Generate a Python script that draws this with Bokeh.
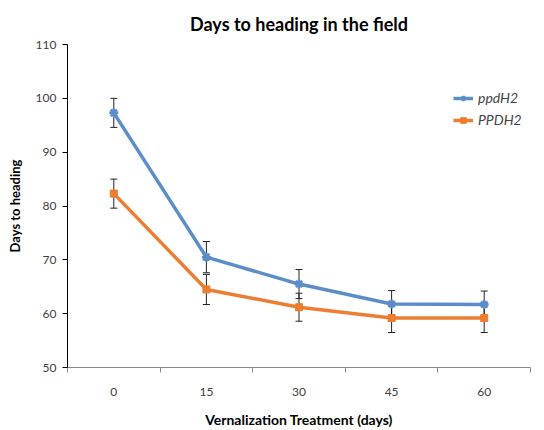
from bokeh.plotting import figure
from bokeh.models import (ColumnDataSource, Whisker, Range1d, FixedTicker, Legend, LegendItem)
from bokeh.embed import file_html
from bokeh.resources import INLINE

categories = ["0", "15", "30", "45", "60"]
ppdH2 = [97.3, 70.5, 65.5, 61.8, 61.7]
ppdH2_err = [2.7, 2.9, 2.7, 2.5, 2.5]
PPDH2 = [82.3, 64.5, 61.2, 59.2, 59.2]
PPDH2_err = [2.7, 2.8, 2.6, 2.7, 2.7]
y_ticks = [50, 60, 70, 80, 90, 100, 110]

FONT = "Lato"
BLUE = "#5B8DC8"
ORANGE = "#ED7D31"

x = list(range(len(categories)))

p = figure(width=544, height=430, output_backend="svg", toolbar_location=None,
           x_range=Range1d(-0.5, len(categories) - 0.5), y_range=Range1d(50, 110),
           min_border_left=67, min_border_right=14, min_border_top=43, min_border_bottom=62)
p.outline_line_color = None
p.xgrid.grid_line_color = None
p.ygrid.grid_line_color = None

p.title.text = "Days to heading in the field"
p.title.text_font = FONT
p.title.text_font_size = "18px"
p.title.text_font_style = "bold"
p.title.align = "center"
p.title.text_color = "#000000"
p.title.standoff = 20

# x axis
xa = p.xaxis[0]
xa.ticker = FixedTicker(ticks=x, minor_ticks=[i - 0.5 for i in range(len(categories) + 1)])
xa.major_label_overrides = {i: c for i, c in enumerate(categories)}
xa.major_tick_out = 0
xa.major_tick_in = 0
xa.minor_tick_out = 5
xa.minor_tick_in = 0
xa.minor_tick_line_color = "#888888"
xa.axis_line_color = "#888888"
xa.major_label_standoff = 15
xa.major_label_text_font = FONT
xa.major_label_text_font_size = "12px"
xa.major_label_text_color = "#404040"
xa.axis_label = "Vernalization Treatment (days)"
xa.axis_label_text_font = FONT
xa.axis_label_text_font_size = "14px"
xa.axis_label_text_font_style = "bold"
xa.axis_label_text_color = "#000000"
xa.axis_label_standoff = 12

# y axis
ya = p.yaxis[0]
ya.ticker = FixedTicker(ticks=y_ticks, minor_ticks=[])
ya.major_tick_out = 5
ya.major_tick_in = 0
ya.axis_line_color = "#000000"
ya.major_tick_line_color = "#000000"
ya.major_label_standoff = 6
ya.major_label_text_font = FONT
ya.major_label_text_font_size = "12px"
ya.major_label_text_color = "#404040"
ya.axis_label = "Days to heading"
ya.axis_label_text_font = FONT
ya.axis_label_text_font_size = "13px"
ya.axis_label_text_font_style = "bold"
ya.axis_label_text_color = "#000000"
ya.axis_label_standoff = 10

src_b = ColumnDataSource(dict(x=x, y=ppdH2,
                              lo=[v - e for v, e in zip(ppdH2, ppdH2_err)],
                              hi=[v + e for v, e in zip(ppdH2, ppdH2_err)]))
src_o = ColumnDataSource(dict(x=x, y=PPDH2,
                              lo=[v - e for v, e in zip(PPDH2, PPDH2_err)],
                              hi=[v + e for v, e in zip(PPDH2, PPDH2_err)]))

for src in (src_b, src_o):
    w = Whisker(source=src, base="x", upper="hi", lower="lo", line_color="#222222", line_width=1)
    w.upper_head.size = 7
    w.lower_head.size = 7
    w.upper_head.line_color = "#222222"
    w.lower_head.line_color = "#222222"
    p.add_layout(w)

lb = p.line("x", "y", source=src_b, line_color=BLUE, line_width=3.5)
mb = p.scatter("x", "y", source=src_b, marker="asterisk", size=9, line_color=BLUE, line_width=2.5)
lo = p.line("x", "y", source=src_o, line_color=ORANGE, line_width=3.5)
mo = p.scatter("x", "y", source=src_o, marker="square", size=7, fill_color=ORANGE, line_color=ORANGE)

legend = Legend(items=[LegendItem(label="ppdH2", renderers=[lb, mb]),
                       LegendItem(label="PPDH2", renderers=[lo, mo])],
                location=(386, 239), border_line_color=None, background_fill_alpha=0,
                label_text_font=FONT, label_text_font_size="14px", label_text_font_style="italic",
                glyph_width=20, glyph_height=14, spacing=5, padding=4, label_standoff=5)
p.add_layout(legend)

open("out.html", "w").write(file_html(p, INLINE))
